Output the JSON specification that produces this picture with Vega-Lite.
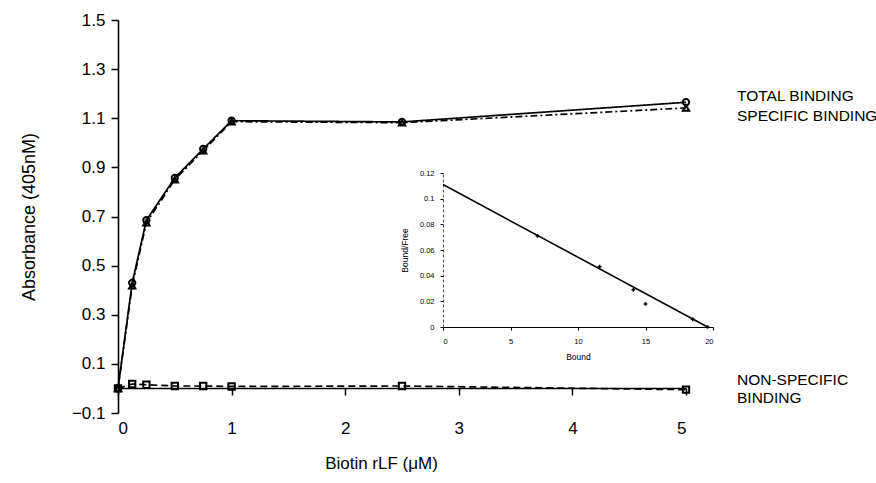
{
  "$schema": "https://vega.github.io/schema/vega-lite/v6.json",
  "width": 568,
  "height": 393,
  "autosize": {"type": "none"},
  "padding": {"left": 118, "top": 20, "right": 190, "bottom": 70},
  "background": "white",
  "config": {
    "view": {"stroke": null},
    "font": "Liberation Sans",
    "axis": {"grid": false, "domainColor": "black", "tickColor": "black", "labelColor": "black", "titleColor": "black", "titleFontWeight": "normal", "labelFont": "Liberation Sans", "titleFont": "Liberation Sans"}
  },
  "datasets": {
    "main": [
      {"series": "Total", "x": 0, "y": 0.0},
      {"series": "Total", "x": 0.125, "y": 0.43},
      {"series": "Total", "x": 0.25, "y": 0.685},
      {"series": "Total", "x": 0.5, "y": 0.857},
      {"series": "Total", "x": 0.75, "y": 0.975},
      {"series": "Total", "x": 1, "y": 1.09},
      {"series": "Total", "x": 2.5, "y": 1.085},
      {"series": "Total", "x": 5, "y": 1.165},
      {"series": "Specific", "x": 0, "y": 0.0},
      {"series": "Specific", "x": 0.125, "y": 0.418},
      {"series": "Specific", "x": 0.25, "y": 0.675},
      {"series": "Specific", "x": 0.5, "y": 0.85},
      {"series": "Specific", "x": 0.75, "y": 0.968},
      {"series": "Specific", "x": 1, "y": 1.086},
      {"series": "Specific", "x": 2.5, "y": 1.082},
      {"series": "Specific", "x": 5, "y": 1.142},
      {"series": "Non-specific", "x": 0, "y": 0.0},
      {"series": "Non-specific", "x": 0.125, "y": 0.018},
      {"series": "Non-specific", "x": 0.25, "y": 0.015},
      {"series": "Non-specific", "x": 0.5, "y": 0.01},
      {"series": "Non-specific", "x": 0.75, "y": 0.01},
      {"series": "Non-specific", "x": 1, "y": 0.008},
      {"series": "Non-specific", "x": 2.5, "y": 0.01},
      {"series": "Non-specific", "x": 5, "y": -0.005}
    ],
    "labels": [
      {"label": "TOTAL BINDING", "x": 5, "y": 1.19},
      {"label": "SPECIFIC BINDING", "x": 5, "y": 1.109},
      {"label": "NON-SPECIFIC", "x": 5, "y": 0.034},
      {"label": "BINDING", "x": 5, "y": -0.039}
    ],
    "inset_line": [
      {"b": 0, "bf": 0.111},
      {"b": 19.6, "bf": 0.0}
    ],
    "inset_pts": [
      {"b": 7.0, "bf": 0.071},
      {"b": 11.6, "bf": 0.047},
      {"b": 14.1, "bf": 0.029},
      {"b": 15.0, "bf": 0.018},
      {"b": 18.5, "bf": 0.006},
      {"b": 19.6, "bf": 0.0}
    ]
  },
  "layer": [
    {
      "encoding": {
        "x": {"field": "x", "type": "quantitative",
          "scale": {"domain": [0, 5], "nice": false, "zero": false},
          "axis": {"values": [0, 1, 2, 3, 4, 5], "offset": -25, "tickSize": 7, "tickWidth": 1.5, "domainWidth": 1.6,
            "labelFontSize": 17, "labelPadding": 25, "title": "Biotin rLF (μM)", "titleFontSize": 17, "titlePadding": 19, "titleX": 263}},
        "y": {"field": "y", "type": "quantitative",
          "scale": {"domain": [-0.1, 1.5], "nice": false, "zero": false},
          "axis": {"values": [-0.1, 0.1, 0.3, 0.5, 0.7, 0.9, 1.1, 1.3, 1.5], "format": ".1f", "tickSize": 7, "tickWidth": 1.5, "domainWidth": 1.6,
            "labelFontSize": 17, "labelPadding": 6, "title": "Absorbance (405nM)", "titleFontSize": 18, "titlePadding": 33}}
      },
      "layer": [
        {
          "data": {"name": "main"},
          "mark": {"type": "line", "color": "black", "strokeWidth": 1.7},
          "encoding": {
            "strokeDash": {"field": "series", "type": "nominal",
              "scale": {"domain": ["Total", "Specific", "Non-specific"], "range": [[1, 0], [7, 3, 2, 3], [7, 4]]},
              "legend": null}
          }
        },
        {
          "data": {"name": "main"},
          "mark": {"type": "point", "filled": false, "color": "black", "strokeWidth": 2, "size": 40, "opacity": 1},
          "encoding": {
            "shape": {"field": "series", "type": "nominal",
              "scale": {"domain": ["Total", "Specific", "Non-specific"], "range": ["circle", "triangle-up", "square"]},
              "legend": null}
          }
        },
        {
          "data": {"name": "labels"},
          "mark": {"type": "text", "align": "left", "baseline": "middle", "dx": 51, "fontSize": 15.5, "font": "Liberation Sans", "color": "black"},
          "encoding": {"text": {"field": "label"}}
        }
      ]
    },
    {
      "encoding": {
        "x": {"field": "b", "type": "quantitative",
          "scale": {"domain": [0, 20], "range": [325, 595], "nice": false, "zero": false},
          "axis": {"orient": "bottom", "offset": -86, "values": [0, 5, 10, 15, 20], "labelExpr": "format(datum.value, '~g')", "tickSize": 3, "domainWidth": 1.2,
            "labelFontSize": 7.5, "labelPadding": 7, "title": "Bound", "titleFontSize": 8.5, "titlePadding": 8}},
        "y": {"field": "bf", "type": "quantitative",
          "scale": {"domain": [0, 0.12], "range": [307, 153], "nice": false, "zero": false},
          "axis": {"orient": "left", "offset": -325, "values": [0, 0.02, 0.04, 0.06, 0.08, 0.1, 0.12], "labelExpr": "format(datum.value, '~g')", "tickSize": 3, "domainWidth": 1,
            "domainColor": "#555", "domainDash": [3, 2],
            "labelFontSize": 7.5, "labelPadding": 6, "title": "Bound/Free", "titleFontSize": 8.5, "titlePadding": 10}}
      },
      "layer": [
        {
          "data": {"name": "inset_line"},
          "mark": {"type": "line", "color": "black", "strokeWidth": 1.6}
        },
        {
          "data": {"name": "inset_pts"},
          "mark": {"type": "point", "shape": "cross", "filled": true, "color": "black", "size": 14, "opacity": 1}
        }
      ]
    }
  ],
  "resolve": {"scale": {"x": "independent", "y": "independent"}}
}
